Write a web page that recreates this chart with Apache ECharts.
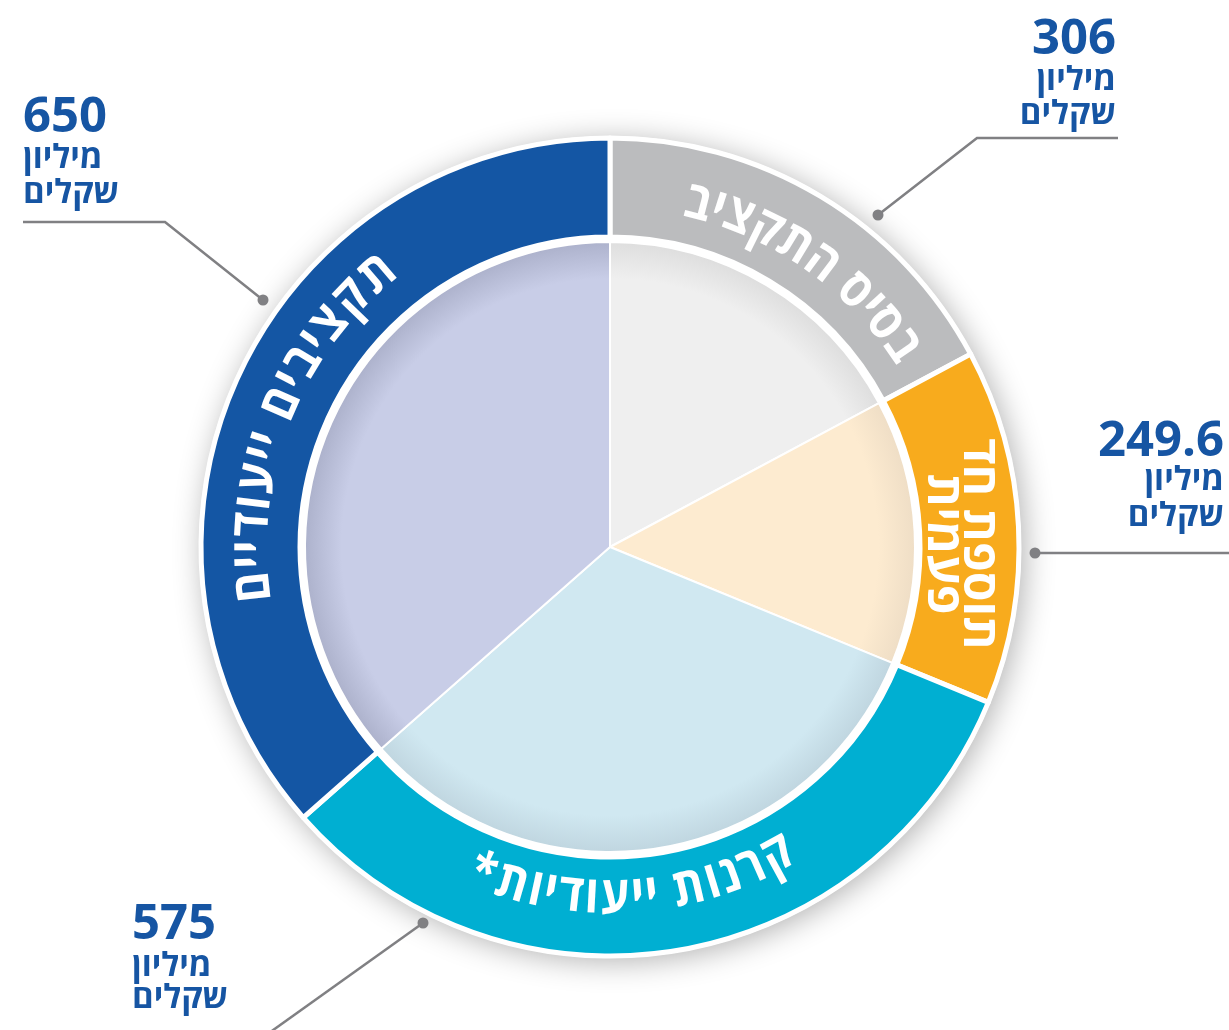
<!DOCTYPE html>
<html>
<head>
<meta charset="utf-8">
<script src="https://cdn.jsdelivr.net/npm/echarts@6/dist/echarts.min.js"></script>
<style>
html,body{margin:0;padding:0;background:#fff;}
#chart{width:1229px;height:1030px;}
</style>
</head>
<body>
<div id="chart"></div>
<script>
// ---- data ----
const categories = ['בסיס התקציב', 'תוספת חד פעמית', 'קרנות ייעודיות*', 'תקציבים ייעודיים'];
const values = [306, 249.6, 575, 650];
const valueLabels = ['306', '249.6', '575', '650'];
const unitLines = ['מיליון', 'שקלים'];

// ---- styles ----
const ringColors = ['#bbbcbe', '#f8ab1d', '#00afd2', '#1456a4'];
const innerColors = ['#efefef', '#fdebd0', '#d0e8f1', '#c8cde7'];
const innerEdge = ['#dedede', '#efdec6', '#c0d6e0', '#adb2cc'];
const CX = 610, CY = 547, R_OUT = 409, R_IN = 310, R_PIE = 305;
const FONT = '"Open Sans","DejaVu Sans",sans-serif';
const labelBlue = '#1655a3';

const chart = echarts.init(document.getElementById('chart'), null, {renderer: 'canvas'});

const ringData = categories.map((c, i) => ({name: c, value: values[i], itemStyle: {color: ringColors[i]}}));
const innerData = categories.map((c, i) => ({
  name: c, value: values[i],
  itemStyle: {color: new echarts.graphic.RadialGradient(CX, CY, R_PIE, [
    {offset: 0, color: innerColors[i]},
    {offset: 0.88, color: innerColors[i]},
    {offset: 1, color: innerEdge[i]}
  ], true)}
}));

// ---- curved text built per character: first/last glyph centres at given angles ----
const mctx = document.createElement('canvas').getContext('2d');
function curvedText(str, firstDeg, lastDeg, r, outward, size, sx) {
  const font = 'bold ' + size + 'px ' + FONT;
  mctx.font = font;
  const chars = Array.from(str);
  const widths = chars.map(ch => mctx.measureText(ch).width * sx);
  const centres = [];
  let cum = 0;
  widths.forEach(w => { centres.push(cum + w / 2); cum += w; });
  const c0 = centres[0], c1 = centres[centres.length - 1];
  const els = [];
  chars.forEach((ch, i) => {
    if (ch === ' ') return;
    const a = firstDeg + (lastDeg - firstDeg) * (centres[i] - c0) / (c1 - c0);
    const rad = a * Math.PI / 180;
    els.push({
      type: 'text', z: 100, silent: true,
      x: CX + r * Math.cos(rad), y: CY - r * Math.sin(rad),
      scaleX: sx,
      rotation: (outward ? a - 90 : a + 90) * Math.PI / 180,
      style: {text: ch, font: font, fill: '#fff', align: 'center', verticalAlign: 'middle'}
    });
  });
  return els;
}

function valueBlock(idx, x, align, yNum, yL1, yL2) {
  return [
    {type: 'text', x: x, y: yNum, z: 100, style: {text: valueLabels[idx], font: 'bold 49px ' + FONT, fill: labelBlue, align: align, verticalAlign: 'middle'}},
    {type: 'text', x: x, y: yL1, z: 100, style: {text: unitLines[0], font: 'bold 33px ' + FONT, fill: labelBlue, align: align, verticalAlign: 'middle'}},
    {type: 'text', x: x, y: yL2, z: 100, style: {text: unitLines[1], font: 'bold 33px ' + FONT, fill: labelBlue, align: align, verticalAlign: 'middle'}}
  ];
}

function leader(points) {
  const last = points[points.length - 1];
  return [
    {type: 'polyline', z: 90, shape: {points: points}, style: {stroke: '#808083', lineWidth: 2.5, fill: null}},
    {type: 'circle', z: 91, shape: {cx: last[0], cy: last[1], r: 5.5}, style: {fill: '#808083'}}
  ];
}

let graphics = [];
graphics = graphics.concat(curvedText(categories[0], 34.5, 75.6, 354, true, 52, 0.88));
graphics = graphics.concat(curvedText(categories[3], 130.4, 186.4, 358, true, 52, 0.88));
graphics = graphics.concat(curvedText(categories[2], -61.4, -111.3, 351, false, 52, 0.88));
graphics.push({
  type: 'text', z: 100, x: 960, y: 544, rotation: -Math.PI / 2,
  style: {text: 'תוספת חד\nפעמית', font: 'bold 48px ' + FONT, fill: '#fff', align: 'center', verticalAlign: 'middle', lineHeight: 36}
});
graphics = graphics.concat(valueBlock(0, 1116, 'right', 40, 81, 115));
graphics = graphics.concat(valueBlock(3, 23, 'left', 118, 159, 194));
graphics = graphics.concat(valueBlock(1, 1224, 'right', 442, 481, 517));
graphics = graphics.concat(valueBlock(2, 132, 'left', 925, 967, 999));
graphics = graphics.concat(leader([[1118, 138], [977, 138], [878, 215]]));
graphics = graphics.concat(leader([[23, 222], [165, 222], [263, 300]]));
graphics = graphics.concat(leader([[1229, 553], [1035, 553]]));
graphics = graphics.concat(leader([[262, 1038], [423, 923]]));

chart.setOption({
  animation: false,
  backgroundColor: '#ffffff',
  graphic: {elements: graphics},
  series: [
    {
      type: 'pie', silent: true, z: 1, center: [CX, CY], radius: [0, R_OUT + 2],
      label: {show: false}, labelLine: {show: false},
      data: [{value: 1, itemStyle: {color: '#ffffff', shadowBlur: 30, shadowColor: 'rgba(0,0,0,0.3)', shadowOffsetX: 4, shadowOffsetY: 4}}]
    },
    {
      type: 'pie', silent: true, z: 2, center: [CX, CY], radius: [R_IN, R_OUT],
      startAngle: 90, clockwise: true, avoidLabelOverlap: false,
      label: {show: false}, labelLine: {show: false},
      itemStyle: {borderColor: '#ffffff', borderWidth: 5},
      data: ringData
    },
    {
      type: 'pie', silent: true, z: 3, center: [CX, CY], radius: [0, R_PIE],
      startAngle: 90, clockwise: true, avoidLabelOverlap: false,
      label: {show: false}, labelLine: {show: false},
      itemStyle: {borderColor: '#ffffff', borderWidth: 2},
      data: innerData
    }
  ]
});
</script>
</body>
</html>
